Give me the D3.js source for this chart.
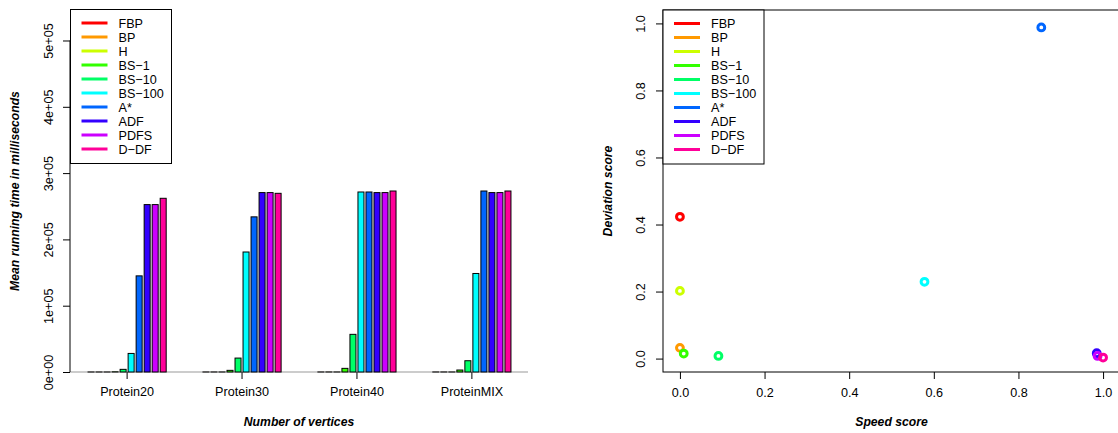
<!DOCTYPE html>
<html>
<head>
<meta charset="utf-8">
<script src="https://cdn.jsdelivr.net/npm/d3@7"></script>
<style>
  html, body { margin: 0; padding: 0; background: #fff; }
  svg { display: block; font-family: "Liberation Sans", Arial, Helvetica, sans-serif; }
</style>
</head>
<body>
<svg id="chart" width="1118" height="433"></svg>
<script>
// ---------- data ----------
const methods = ["FBP", "BP", "H", "BS\u22121", "BS\u221210", "BS\u2212100", "A*", "ADF", "PDFS", "D\u2212DF"];
const colors = ["#FF0000", "#FF9900", "#CCFF00", "#33FF00", "#00FF66", "#00FFFF", "#0066FF", "#3300FF", "#CC00FF", "#FF0099"];
const groups = ["Protein20", "Protein30", "Protein40", "ProteinMIX"];

// mean running time (ms), one array per method, values per group
const runFBP   = [20, 30, 40, 40];
const runBP    = [30, 40, 60, 50];
const runH     = [20, 30, 50, 40];
const runBS1   = [300, 2500, 5500, 3000];
const runBS10  = [4000, 21000, 56800, 17000];
const runBS100 = [28000, 181000, 271500, 148600];
const runAstar = [145000, 234000, 271500, 273000];
const runADF   = [252500, 270600, 270600, 270600];
const runPDFS  = [252500, 270600, 270600, 270600];
const runDDF   = [262000, 269500, 273000, 273000];
const runTimes = [runFBP, runBP, runH, runBS1, runBS10, runBS100, runAstar, runADF, runPDFS, runDDF];

const leftYTicks = [0, 100000, 200000, 300000, 400000, 500000];
const leftYTickLabels = ["0e+00", "1e+05", "2e+05", "3e+05", "4e+05", "5e+05"];

// speed / deviation scores per method
const speedScore     = [0.000, 0.000, 0.000, 0.009, 0.091, 0.578, 0.854, 0.985, 0.987, 1.000];
const deviationScore = [0.423, 0.032, 0.202, 0.015, 0.008, 0.229, 0.988, 0.016, 0.008, 0.003];

const rightTicks = [0, 0.2, 0.4, 0.6, 0.8, 1.0];
const rightTickLabels = ["0.0", "0.2", "0.4", "0.6", "0.8", "1.0"];

// ---------- drawing ----------
const svg = d3.select("#chart");
const FS = 12.6;
const TFS = 12.2;

function leftRotatedLabels(sel, off) {
  sel.selectAll(".tick text")
    .attr("transform", "rotate(-90)")
    .attr("x", 0).attr("y", -off).attr("dy", null)
    .attr("text-anchor", "middle")
    .style("font-size", FS + "px").attr("fill", "#000");
}

// ===== Left chart: grouped bar chart =====
const L = {left: 70, right: 528, top: 10, bottom: 372};
const yL = d3.scaleLinear().domain([0, 546000]).range([L.bottom, L.top]);
const xG = d3.scaleBand().domain(groups).range([70, 529]).paddingInner(0.32).paddingOuter(0.157);
const xS = d3.scaleBand().domain(d3.range(methods.length)).range([0, xG.bandwidth()]).paddingInner(0.25);

const gL = svg.append("g");

// baseline
gL.append("line").attr("x1", L.left).attr("x2", L.right).attr("y1", yL(0)).attr("y2", yL(0))
  .attr("stroke", "#999").attr("stroke-width", 1);

// bars
groups.forEach((grp, gi) => {
  methods.forEach((m, si) => {
    const v = runTimes[si][gi];
    const y = yL(v);
    gL.append("rect")
      .attr("x", xG(grp) + xS(si))
      .attr("y", y)
      .attr("width", xS.bandwidth())
      .attr("height", Math.max(yL(0) - y, 0.01))
      .attr("fill", colors[si])
      .attr("stroke", "#000")
      .attr("stroke-width", 1);
  });
});

// y axis
const yAxisL = d3.axisLeft(yL).tickValues(leftYTicks)
  .tickFormat((d, i) => leftYTickLabels[i]).tickSize(7).tickSizeOuter(0);
const gyL = gL.append("g").attr("transform", `translate(${L.left},0)`).call(yAxisL);
gyL.select(".domain").remove();
gyL.append("line").attr("x1", 0).attr("x2", 0).attr("y1", yL(0)).attr("y2", yL(500000)).attr("stroke", "#000");
gyL.selectAll(".tick line").attr("stroke", "#000");
leftRotatedLabels(gyL, 17.5);

// x axis (group names)
const xAxisL = d3.axisBottom(xG).tickSize(7).tickSizeOuter(0).tickPadding(8);
const gxL = gL.append("g").attr("transform", `translate(0,${L.bottom})`).call(xAxisL);
gxL.select(".domain").remove();
gxL.selectAll(".tick line").attr("stroke", "#000");
gxL.selectAll(".tick text").style("font-size", FS + "px").attr("fill", "#000");

// axis titles
gL.append("text").attr("x", (L.left + L.right) / 2).attr("y", 426)
  .attr("text-anchor", "middle").style("font-size", TFS + "px").style("font-weight", "bold").style("font-style", "italic")
  .text("Number of vertices");
gL.append("text").attr("transform", `translate(19,${(L.top + L.bottom) / 2}) rotate(-90)`)
  .attr("text-anchor", "middle").style("font-size", TFS + "px").style("font-weight", "bold").style("font-style", "italic")
  .text("Mean running time in milliseconds");

// ===== Right chart: scatter =====
const R = {left: 663, right: 1120, top: 10, bottom: 372};
const xR = d3.scaleLinear().domain([-0.04, 1.04]).range([R.left, R.right]);
const yR = d3.scaleLinear().domain([-0.04, 1.04]).range([R.bottom, R.top]);
const gR = svg.append("g");

gR.append("rect").attr("x", R.left).attr("y", R.top).attr("width", R.right - R.left).attr("height", R.bottom - R.top)
  .attr("fill", "none").attr("stroke", "#000").attr("stroke-width", 1);

const xAxisR = d3.axisBottom(xR).tickValues(rightTicks).tickFormat((d, i) => rightTickLabels[i]).tickSize(7).tickPadding(9);
const gxR = gR.append("g").attr("transform", `translate(0,${R.bottom})`).call(xAxisR);
gxR.select(".domain").remove();
gxR.selectAll(".tick line").attr("stroke", "#000");
gxR.selectAll(".tick text").style("font-size", FS + "px").attr("fill", "#000");

const yAxisR = d3.axisLeft(yR).tickValues(rightTicks).tickFormat((d, i) => rightTickLabels[i]).tickSize(7);
const gyR = gR.append("g").attr("transform", `translate(${R.left},0)`).call(yAxisR);
gyR.select(".domain").remove();
gyR.selectAll(".tick line").attr("stroke", "#000");
leftRotatedLabels(gyR, 18.5);

gR.append("text").attr("x", (R.left + R.right) / 2).attr("y", 426)
  .attr("text-anchor", "middle").style("font-size", TFS + "px").style("font-weight", "bold").style("font-style", "italic")
  .text("Speed score");
gR.append("text").attr("transform", `translate(612,${(R.top + R.bottom) / 2}) rotate(-90)`)
  .attr("text-anchor", "middle").style("font-size", TFS + "px").style("font-weight", "bold").style("font-style", "italic")
  .text("Deviation score");

// points
methods.forEach((m, i) => {
  gR.append("circle").attr("cx", xR(speedScore[i])).attr("cy", yR(deviationScore[i])).attr("r", 3.4)
    .attr("fill", "none").attr("stroke", colors[i]).attr("stroke-width", 3);
});

// ===== Legends =====
function legend(x0, y0) {
  const g = svg.append("g");
  g.append("rect").attr("x", x0).attr("y", y0).attr("width", 101).attr("height", 154)
    .attr("fill", "#fff").attr("stroke", "#000").attr("stroke-width", 1);
  methods.forEach((m, i) => {
    const y = y0 + 13.5 + i * 14;
    g.append("line").attr("x1", x0 + 11).attr("x2", x0 + 37).attr("y1", y).attr("y2", y)
      .attr("stroke", colors[i]).attr("stroke-width", 3);
    g.append("text").attr("x", x0 + 48).attr("y", y).attr("dy", "0.36em")
      .style("font-size", FS + "px").attr("fill", "#000").text(m);
  });
}
legend(70.5, 9.5);
legend(663, 10);
</script>
</body>
</html>
